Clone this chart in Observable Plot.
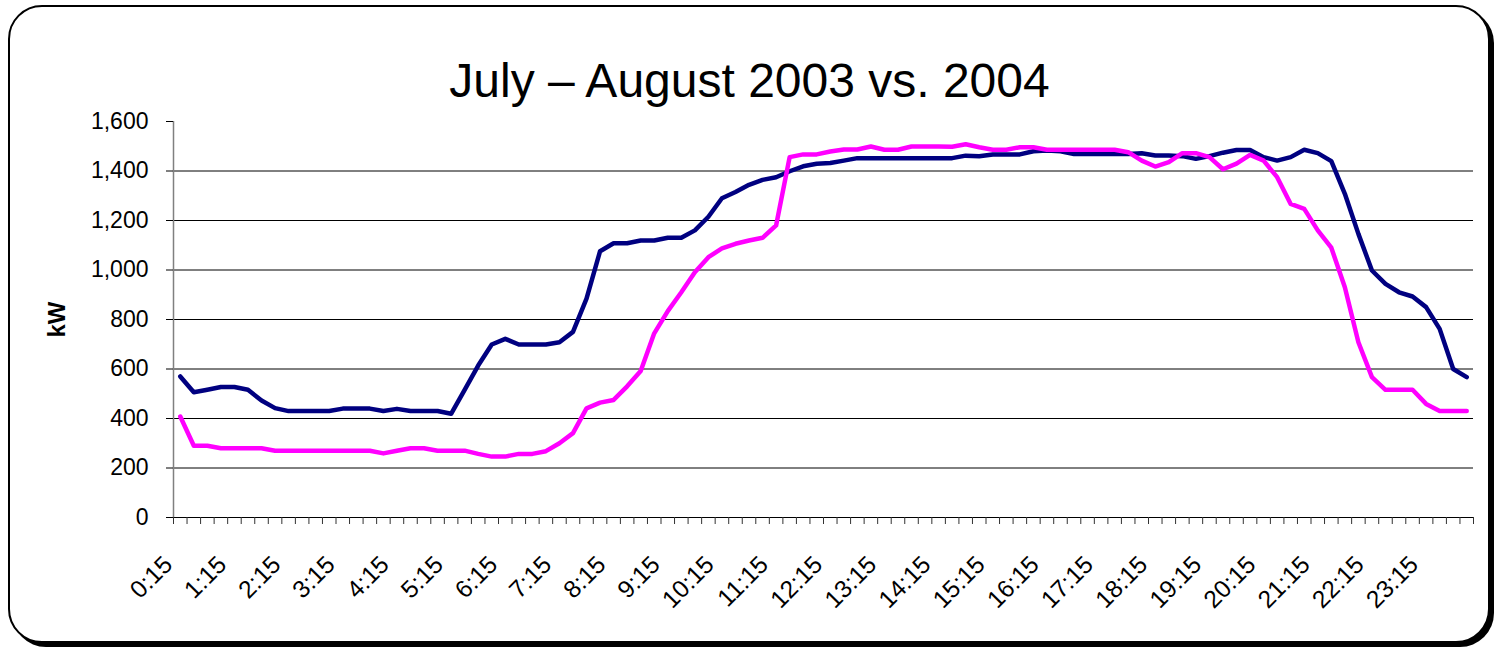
<!DOCTYPE html>
<html><head><meta charset="utf-8">
<script src="https://cdn.jsdelivr.net/npm/d3@7"></script>
<script src="https://cdn.jsdelivr.net/npm/@observablehq/plot@0.6"></script>
<style>
body{margin:0;background:#fff;}
#wrap{position:relative;width:1499px;height:651px;overflow:hidden;font-family:"Liberation Sans",Arial,sans-serif;}
#frame{position:absolute;left:8px;top:5px;width:1478px;height:634px;border:2px solid #000;border-radius:34px;box-shadow:4px 4px 0 #000;background:#fff;}
#title{position:absolute;left:0;width:1499px;top:57px;text-align:center;font-size:48px;line-height:48px;color:#000;white-space:nowrap;}
#chart{position:absolute;left:0;top:0;}
</style></head>
<body><div id="wrap"><div id="frame"></div><div id="title">July – August 2003 vs. 2004</div><div id="chart"></div></div>
<script>
const times = ["0:15","0:30","0:45","1:00","1:15","1:30","1:45","2:00","2:15","2:30","2:45","3:00",
"3:15","3:30","3:45","4:00","4:15","4:30","4:45","5:00","5:15","5:30","5:45","6:00",
"6:15","6:30","6:45","7:00","7:15","7:30","7:45","8:00","8:15","8:30","8:45","9:00",
"9:15","9:30","9:45","10:00","10:15","10:30","10:45","11:00","11:15","11:30","11:45","12:00",
"12:15","12:30","12:45","13:00","13:15","13:30","13:45","14:00","14:15","14:30","14:45","15:00",
"15:15","15:30","15:45","16:00","16:15","16:30","16:45","17:00","17:15","17:30","17:45","18:00",
"18:15","18:30","18:45","19:00","19:15","19:30","19:45","20:00","20:15","20:30","20:45","21:00",
"21:15","21:30","21:45","22:00","22:15","22:30","22:45","23:00","23:15","23:30","23:45","24:00"];

const labelTimes = ["0:15","1:15","2:15","3:15","4:15","5:15","6:15","7:15","8:15","9:15","10:15","11:15",
"12:15","13:15","14:15","15:15","16:15","17:15","18:15","19:15","20:15","21:15","22:15","23:15"];

const kw2003 = [570,506,516,527,527,516,473,442,430,430,430,430,
440,440,440,430,439,430,430,430,419,516,614,699,
722,699,699,699,708,750,884,1076,1108,1108,1119,1119,
1130,1130,1160,1215,1290,1315,1344,1364,1375,1399,1419,1429,
1432,1442,1452,1452,1452,1452,1452,1452,1452,1452,1462,1460,
1467,1467,1467,1480,1483,1480,1469,1469,1469,1469,1469,1472,
1463,1463,1460,1449,1460,1474,1485,1485,1456,1442,1456,1486,
1472,1440,1308,1146,998,944,910,893,850,762,600,567];

const kw2004 = [408,290,290,280,280,280,280,270,270,270,270,270,
270,270,270,259,270,280,280,270,270,270,257,246,
246,257,257,268,300,341,441,464,475,530,592,744,
834,910,991,1052,1087,1106,1119,1130,1180,1456,1467,1467,
1479,1487,1487,1499,1486,1486,1499,1499,1499,1498,1508,1496,
1486,1486,1496,1496,1486,1486,1486,1486,1486,1486,1476,1442,
1418,1436,1472,1472,1456,1407,1430,1465,1442,1375,1267,1247,
1160,1090,930,708,567,516,516,516,459,430,430,430];

const seriesNames = ["2003","2004"];
const seriesColors = ["#000080","#FF00FF"];
const yTicks = [0,200,400,600,800,1000,1200,1400,1600];

const rows = [];
times.forEach((t, i) => {
  rows.push({t, x: i + 0.5, kw: kw2003[i], series: "2003"});
  rows.push({t, x: i + 0.5, kw: kw2004[i], series: "2004"});
});
const edges = d3.range(times.length + 1);
const labelPos = labelTimes.map(t => times.indexOf(t) + 0.5);

const chart = Plot.plot({
  width: 1499, height: 651,
  marginLeft: 173, marginRight: 26, marginTop: 121, marginBottom: 134,
  style: {fontFamily: "Liberation Sans, Arial, sans-serif", fontSize: "23px", color: "#000", background: "transparent", overflow: "visible"},
  x: {domain: [0, times.length]},
  y: {domain: [0, 1600]},
  color: {domain: seriesNames, range: seriesColors},
  marks: [
    Plot.gridY(yTicks.filter(v => v > 0 && v < 1600), {stroke: "#000", strokeOpacity: 1, strokeWidth: 1}),
    Plot.ruleX([0], {stroke: "#808080", strokeWidth: 1.5}),
    Plot.ruleY([0], {stroke: "#000", strokeWidth: 1}),
    Plot.axisY(yTicks, {tickSize: 7, tickPadding: 18, tickFormat: d3.format(","), label: null, fontSize: 23, stroke: "#000"}),
    Plot.axisX(edges, {tickSize: 7, tickFormat: () => "", label: null, stroke: "#333"}),
    Plot.axisX(labelPos, {tickSize: 0, tickRotate: -45, tickPadding: 43, dx: -12, tickFormat: d => times[d - 0.5], label: null, fontSize: 24.5}),
    Plot.line(rows, {x: "x", y: "kw", z: "series", stroke: "series", strokeWidth: 4.5, strokeLinejoin: "round", strokeLinecap: "round"}),
    Plot.text(["kW"], {frameAnchor: "left", textAnchor: "middle", dx: -116, rotate: -90, fontWeight: "bold", fontSize: 24})
  ]
});
document.getElementById("chart").appendChild(chart);
</script>
</body></html>
